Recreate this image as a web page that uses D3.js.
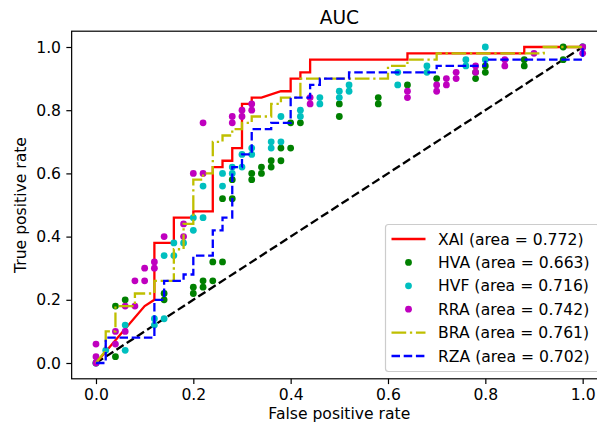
<!DOCTYPE html>
<html>
<head>
<meta charset="utf-8">
<script src="https://cdn.jsdelivr.net/npm/d3@7"></script>
<style>
  body { margin: 0; background: #fff; }
  svg { display: block; font-family: "DejaVu Sans", sans-serif; }
</style>
</head>
<body>
<svg id="chart" width="597" height="429"></svg>
<script>
// ---- Data ----
const xTicks = [0, 0.2, 0.4, 0.6, 0.8, 1.0];
const yTicks = [0, 0.2, 0.4, 0.6, 0.8, 1.0];

const xaiFpr = [0, 0.10, 0.12, 0.12, 0.16, 0.16, 0.20, 0.20, 0.24, 0.24, 0.26, 0.26, 0.28, 0.28, 0.30, 0.30, 0.32, 0.32, 0.34, 0.38, 0.40, 0.40, 0.42, 0.42, 0.44, 0.44, 0.64, 0.64, 0.88, 0.88, 1.0];
const xaiTpr = [0, 0.18, 0.20, 0.38, 0.38, 0.46, 0.46, 0.48, 0.48, 0.62, 0.62, 0.64, 0.64, 0.68, 0.68, 0.82, 0.82, 0.84, 0.84, 0.86, 0.86, 0.90, 0.90, 0.92, 0.92, 0.96, 0.96, 0.98, 0.98, 1.0, 1.0];

const braFpr = [0, 0.02, 0.02, 0.04, 0.04, 0.08, 0.08, 0.12, 0.12, 0.16, 0.16, 0.18, 0.18, 0.20, 0.20, 0.22, 0.22, 0.24, 0.24, 0.26, 0.26, 0.28, 0.28, 0.30, 0.30, 0.32, 0.32, 0.36, 0.36, 0.38, 0.38, 0.42, 0.42, 0.60, 0.60, 0.64, 0.64, 0.70, 0.70, 0.92, 0.92, 1.0];
const braTpr = [0, 0.04, 0.10, 0.10, 0.18, 0.18, 0.22, 0.22, 0.26, 0.26, 0.36, 0.36, 0.44, 0.44, 0.58, 0.58, 0.60, 0.60, 0.70, 0.70, 0.72, 0.72, 0.74, 0.74, 0.76, 0.76, 0.78, 0.78, 0.82, 0.82, 0.84, 0.84, 0.90, 0.90, 0.94, 0.94, 0.96, 0.96, 0.98, 0.98, 1.0, 1.0];

const rzaFpr = [0, 0.02, 0.02, 0.12, 0.12, 0.14, 0.14, 0.18, 0.18, 0.20, 0.20, 0.24, 0.24, 0.26, 0.26, 0.28, 0.28, 0.30, 0.30, 0.32, 0.32, 0.36, 0.36, 0.40, 0.40, 0.44, 0.44, 0.46, 0.46, 0.52, 0.52, 0.70, 0.70, 0.80, 0.80, 1.0, 1.0];
const rzaTpr = [0, 0, 0.08, 0.08, 0.20, 0.20, 0.26, 0.26, 0.28, 0.28, 0.34, 0.34, 0.42, 0.42, 0.46, 0.46, 0.62, 0.62, 0.66, 0.66, 0.74, 0.74, 0.76, 0.76, 0.84, 0.84, 0.88, 0.88, 0.90, 0.90, 0.92, 0.92, 0.94, 0.94, 0.96, 0.96, 1.0];

const hvaFpr = [0, 0.04, 0.04, 0.06, 0.14, 0.14, 0.20, 0.20, 0.22, 0.22, 0.24, 0.24, 0.26, 0.26, 0.28, 0.28, 0.32, 0.32, 0.34, 0.34, 0.36, 0.36, 0.38, 0.38, 0.40, 0.40, 0.42, 0.50, 0.50, 0.58, 0.58, 0.64, 0.70, 0.78, 0.78, 0.80, 0.80, 0.88, 0.88, 0.96, 0.96, 1.0];
const hvaTpr = [0, 0.02, 0.18, 0.20, 0.20, 0.22, 0.22, 0.24, 0.24, 0.26, 0.26, 0.32, 0.32, 0.52, 0.52, 0.58, 0.58, 0.60, 0.60, 0.62, 0.62, 0.64, 0.64, 0.68, 0.68, 0.76, 0.76, 0.78, 0.82, 0.82, 0.84, 0.88, 0.90, 0.90, 0.92, 0.92, 0.94, 0.94, 0.96, 0.96, 1.0, 1.0];

const hvfFpr = [0, 0.02, 0.06, 0.06, 0.12, 0.12, 0.14, 0.14, 0.16, 0.16, 0.18, 0.20, 0.20, 0.22, 0.22, 0.26, 0.26, 0.28, 0.28, 0.30, 0.30, 0.32, 0.32, 0.36, 0.36, 0.38, 0.38, 0.42, 0.42, 0.46, 0.46, 0.50, 0.50, 0.52, 0.52, 0.62, 0.62, 0.68, 0.68, 0.76, 0.76, 0.80, 0.80, 1.0];
const hvfTpr = [0, 0.04, 0.04, 0.12, 0.12, 0.14, 0.14, 0.34, 0.34, 0.38, 0.38, 0.42, 0.46, 0.46, 0.56, 0.56, 0.60, 0.60, 0.62, 0.62, 0.66, 0.66, 0.68, 0.68, 0.70, 0.70, 0.78, 0.78, 0.80, 0.82, 0.84, 0.84, 0.86, 0.86, 0.88, 0.88, 0.92, 0.92, 0.94, 0.94, 0.96, 0.96, 1.0, 1.0];

const rraFpr = [0, 0, 0, 0.04, 0.04, 0.06, 0.06, 0.08, 0.08, 0.10, 0.10, 0.12, 0.12, 0.14, 0.18, 0.18, 0.20, 0.22, 0.22, 0.28, 0.28, 0.30, 0.30, 0.32, 0.32, 0.44, 0.44, 0.64, 0.64, 0.70, 0.70, 0.72, 0.72, 0.74, 0.74, 0.78, 0.78, 0.84, 0.84, 0.90, 1.0, 1.0];
const rraTpr = [0, 0.02, 0.06, 0.06, 0.10, 0.10, 0.18, 0.18, 0.26, 0.26, 0.30, 0.30, 0.32, 0.40, 0.40, 0.44, 0.60, 0.60, 0.76, 0.76, 0.78, 0.78, 0.80, 0.80, 0.82, 0.82, 0.84, 0.84, 0.86, 0.86, 0.88, 0.88, 0.90, 0.90, 0.92, 0.92, 0.94, 0.94, 0.96, 0.98, 0.98, 1.0];

const seriesNames = ["XAI", "HVA", "HVF", "RRA", "BRA", "RZA"];
const seriesAreas = [0.772, 0.663, 0.716, 0.742, 0.761, 0.702];
const seriesColors = ["#ff0000", "#008000", "#00bfbf", "#bf00bf", "#bfbf00", "#0000ff"];
const seriesKinds = ["solid", "dot", "dot", "dot", "dashdot", "dashed"];

// ---- Layout ----
const svg = d3.select("#chart");
const mLeft = 71.65, mTop = 31.2, mRight = 607, mBottom = 378.8;
const x = d3.scaleLinear().domain([-0.05, 1.05]).range([mLeft, mRight]);
const y = d3.scaleLinear().domain([-0.05, 1.05]).range([mBottom, mTop]);
const LW = 2.3;
const FS = "15.6px";
const dashes = { solid: null, dashed: "8.5,3.7", dashdot: "14.7,3.7,2.3,3.7" };
const zip = (a, b) => a.map((v, i) => [v, b[i]]);
const line = d3.line().x(d => x(d[0])).y(d => y(d[1]));

const plot = svg.append("g");

// diagonal
plot.append("path").datum([[0, 0], [1, 1]]).attr("d", line)
  .attr("fill", "none").attr("stroke", "#000").attr("stroke-width", LW)
  .attr("stroke-dasharray", dashes.dashed);

const dataSets = [
  zip(xaiFpr, xaiTpr), zip(hvaFpr, hvaTpr), zip(hvfFpr, hvfTpr),
  zip(rraFpr, rraTpr), zip(braFpr, braTpr), zip(rzaFpr, rzaTpr)
];

dataSets.forEach((pts, i) => {
  const kind = seriesKinds[i];
  if (kind === "dot") {
    plot.append("g").selectAll("circle").data(pts).join("circle")
      .attr("cx", d => x(d[0])).attr("cy", d => y(d[1])).attr("r", 3.4)
      .attr("fill", seriesColors[i]);
  } else {
    plot.append("path").datum(pts).attr("d", line)
      .attr("fill", "none").attr("stroke", seriesColors[i]).attr("stroke-width", LW)
      .attr("stroke-linejoin", "miter").attr("stroke-linecap", "butt")
      .attr("stroke-dasharray", dashes[kind]);
  }
});

// spines
svg.append("rect").attr("x", mLeft).attr("y", mTop).attr("width", mRight - mLeft).attr("height", mBottom - mTop)
  .attr("fill", "none").attr("stroke", "#000").attr("stroke-width", 1.2);

// axes
const fmt = d3.format(".1f");
const xAxis = svg.append("g").attr("transform", `translate(0,${mBottom})`)
  .call(d3.axisBottom(x).tickValues(xTicks).tickFormat(fmt).tickSize(5.3).tickPadding(5.3).tickSizeOuter(0));
const yAxis = svg.append("g").attr("transform", `translate(${mLeft},0)`)
  .call(d3.axisLeft(y).tickValues(yTicks).tickFormat(fmt).tickSize(5.3).tickPadding(5.3).tickSizeOuter(0));
[xAxis, yAxis].forEach(a => {
  a.select(".domain").remove();
  a.selectAll(".tick line").attr("stroke", "#000").attr("stroke-width", 1.2);
  a.selectAll(".tick text").attr("fill", "#000").attr("font-size", FS)
    .attr("font-family", "DejaVu Sans");
});

// labels
svg.append("text").attr("x", (mLeft + mRight) / 2).attr("y", 24).attr("text-anchor", "middle")
  .attr("font-size", "18.6px").attr("fill", "#000").text("AUC");
svg.append("text").attr("x", (mLeft + mRight) / 2).attr("y", 419).attr("text-anchor", "middle")
  .attr("font-size", FS).attr("fill", "#000").text("False positive rate");
svg.append("text").attr("transform", `translate(26,${(mTop + mBottom) / 2}) rotate(-90)`)
  .attr("text-anchor", "middle").attr("font-size", FS).attr("fill", "#000").text("True positive rate");

// legend
const lg = svg.append("g");
lg.append("rect").attr("x", 385.5).attr("y", 224.5).attr("width", 214).attr("height", 147)
  .attr("rx", 3).attr("fill", "#fff").attr("fill-opacity", 0.8)
  .attr("stroke", "#cccccc").attr("stroke-width", 1.2);
seriesNames.forEach((name, i) => {
  const cy = 239 + i * 23.4;
  const kind = seriesKinds[i];
  if (kind === "dot") {
    lg.append("circle").attr("cx", 408.5).attr("cy", cy).attr("r", 3.4).attr("fill", seriesColors[i]);
  } else {
    lg.append("line").attr("x1", 391.5).attr("x2", 425.5).attr("y1", cy).attr("y2", cy)
      .attr("stroke", seriesColors[i]).attr("stroke-width", LW)
      .attr("stroke-dasharray", dashes[kind]);
  }
  lg.append("text").attr("x", 438).attr("y", cy).attr("dy", "0.36em")
    .attr("font-size", FS).attr("fill", "#000")
    .text(`${name} (area = ${seriesAreas[i].toFixed(3)})`);
});
</script>
</body>
</html>
